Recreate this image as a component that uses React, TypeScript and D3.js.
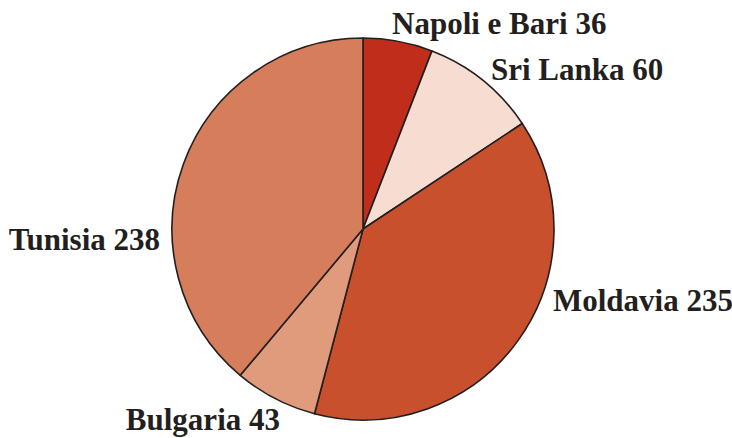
import React, { useEffect, useRef } from 'react';
import * as d3 from 'd3';

const countries = ['Napoli e Bari', 'Sri Lanka', 'Moldavia', 'Bulgaria', 'Tunisia'];
const counts = [36, 60, 235, 43, 238];
const colors = ['#c02e1b', '#f7ddd1', '#c8502c', '#e09a7c', '#d67d5c'];

// label anchor offsets from pie centre (hand placed like the original)
const labelPos: { dx: number; dy: number; anchor: string }[] = [
  { dx: 29, dy: -195, anchor: 'start' },
  { dx: 128, dy: -149, anchor: 'start' },
  { dx: 190, dy: 82, anchor: 'start' },
  { dx: -83, dy: 201, anchor: 'end' },
  { dx: -203, dy: 21, anchor: 'end' },
];

const App = () => {
  const ref = useRef<SVGSVGElement>(null);

  useEffect(() => {
    const svg = d3.select(ref.current);
    svg.selectAll('*').remove();

    const cx = 363;
    const cy = 229;
    const radius = 191;

    const pie = d3.pie<number>().sort(null).value(d => d);
    const arcs = pie(counts);
    const arc = d3.arc<d3.PieArcDatum<number>>().innerRadius(0).outerRadius(radius);

    const g = svg.append('g').attr('transform', `translate(${cx},${cy})`);

    g.selectAll('path')
      .data(arcs)
      .enter().append('path')
        .attr('d', arc)
        .attr('fill', (d, i) => colors[i])
        .attr('stroke', '#231f20')
        .attr('stroke-width', 1.6)
        .attr('stroke-linejoin', 'round');

    g.selectAll('text')
      .data(arcs)
      .enter().append('text')
        .attr('x', (d, i) => labelPos[i].dx)
        .attr('y', (d, i) => labelPos[i].dy)
        .attr('text-anchor', (d, i) => labelPos[i].anchor)
        .style('font-family', '"Liberation Serif", "DejaVu Serif", serif')
        .style('font-weight', 'bold')
        .style('font-size', '31px')
        .style('fill', '#231f20')
        .text((d, i) => `${countries[i]} ${counts[i]}`);
  }, []);

  return (
    <svg ref={ref} width={732} height={438} style={{ position: 'absolute', left: 0, top: 0 }}></svg>
  );
};

export default App;
